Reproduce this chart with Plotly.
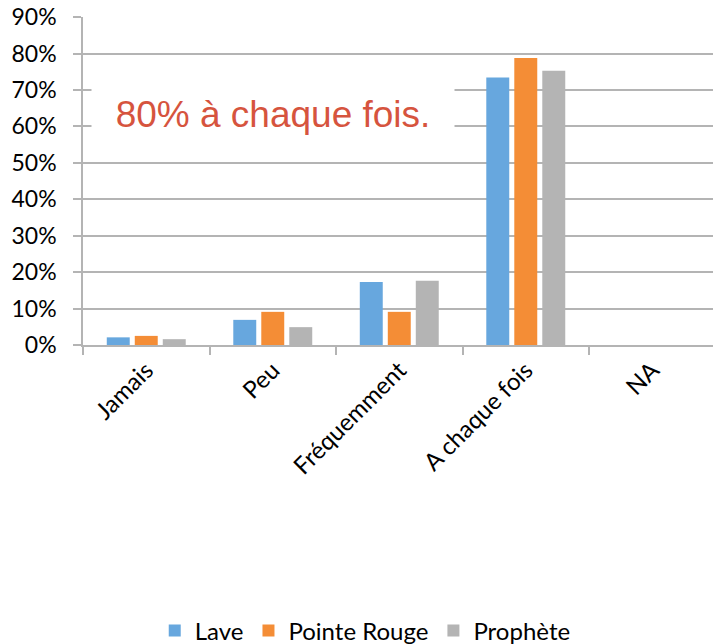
import plotly.graph_objects as go

categories = ["Jamais", "Peu", "Fréquemment", "A chaque fois", "NA"]
lave = [2.1, 6.9, 17.3, 73.4, 0]
pointe_rouge = [2.5, 9.1, 9.1, 78.8, 0]
prophete = [1.6, 4.9, 17.6, 75.3, 0]
series_names = ["Lave", "Pointe Rouge", "Prophète"]
colors = ["#67a7de", "#f48d36", "#b4b4b4"]
y_tick_values = [0, 10, 20, 30, 40, 50, 60, 70, 80, 90]
y_tick_labels = ["0%", "10%", "20%", "30%", "40%", "50%", "60%", "70%", "80%", "90%"]
annotation_text = "80% à chaque fois."

FONT = "Lato"
GRID = "#b4b4b4"

fig = go.Figure()
for name, vals, col in zip(series_names, [lave, pointe_rouge, prophete], colors):
    fig.add_trace(go.Bar(x=categories, y=vals, name=name, marker=dict(color=col, line=dict(width=0))))

fig.update_layout(
    width=713, height=644,
    margin=dict(l=83, r=0, t=17, b=299, autoexpand=False),
    paper_bgcolor="white", plot_bgcolor="white",
    barmode="group", bargap=0.336, bargroupgap=0.18,
    font=dict(family=FONT, color="black", size=23),
    showlegend=True,
    legend=dict(orientation="h", x=0.448, xanchor="center", y=-0.872, yanchor="middle",
                font=dict(size=24, family=FONT), itemsizing="constant", traceorder="normal"),
    xaxis=dict(range=[-0.5, 4.48], tickangle=-45, showline=True, linecolor=GRID, linewidth=1.5,
               ticks="outside", tickson="boundaries", ticklen=8, tickcolor=GRID, tickwidth=1.5,
               showgrid=False, tickfont=dict(size=24, family=FONT)),
    yaxis=dict(range=[0, 90.02], tickmode="array", tickvals=y_tick_values, ticktext=y_tick_labels,
               showline=True, linecolor=GRID, linewidth=1.5,
               ticks="outside", ticklen=8, tickcolor=GRID, tickwidth=1.5,
               showgrid=True, gridcolor=GRID, gridwidth=1.5, zeroline=False,
               tickfont=dict(size=23, family=FONT), ticklabelstandoff=12,
               ticklabeloverflow="allow"),
    annotations=[dict(text=annotation_text, xref="paper", yref="y", x=0.302, y=63.5,
                      xanchor="center", yanchor="middle", showarrow=False,
                      width=360, height=70, bgcolor="white",
                      font=dict(family="Liberation Sans", size=37, color="#D6543E"))],
)

fig.write_html(
    "out.html",
    config={"displayModeBar": False},
    post_script="document.body.style.margin='0';document.body.style.overflow='hidden';",
)
